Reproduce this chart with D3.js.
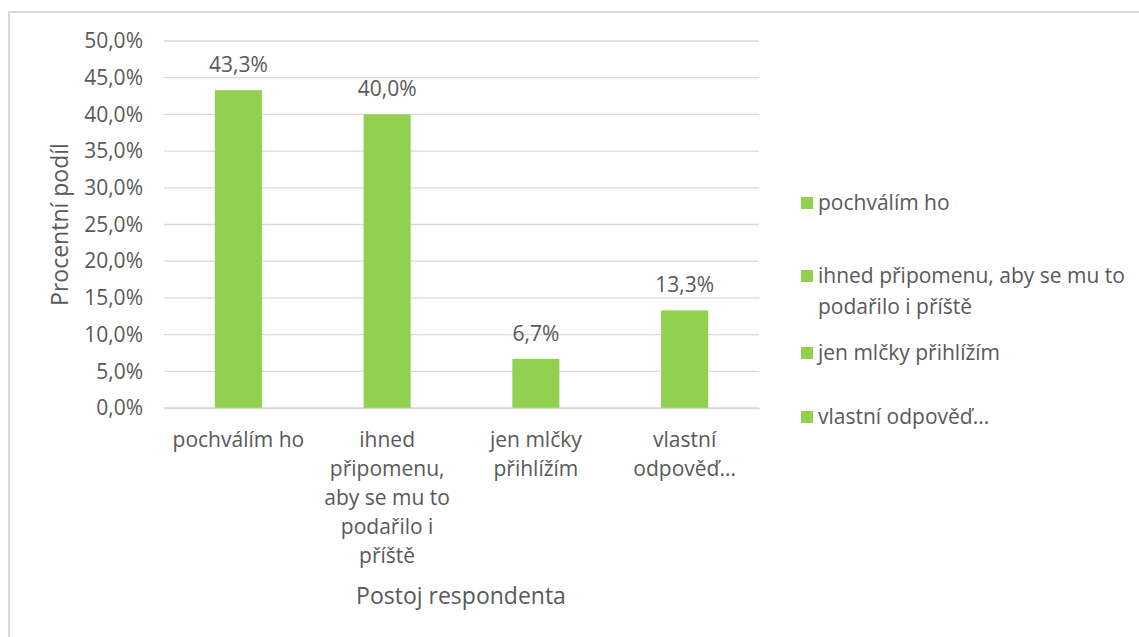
<!DOCTYPE html>
<html><head><meta charset="utf-8">
<script src="https://cdn.jsdelivr.net/npm/d3@7"></script>
<style>
html,body{margin:0;padding:0;background:#fff;}
svg{display:block;}
text{font-family:"Open Sans",sans-serif;fill:#595959;}
</style></head>
<body>
<svg id="chart" width="1139" height="637"></svg>
<script>
const categories = ["pochválím ho","ihned připomenu, aby se mu to podařilo i příště","jen mlčky přihlížím","vlastní odpověď..."];
const tickLines = [["pochválím ho"],["ihned","připomenu,","aby se mu to","podařilo i","příště"],["jen mlčky","přihlížím"],["vlastní","odpověď..."]];
const values = [43.3, 40.0, 6.7, 13.3];
const valueLabels = ["43,3%","40,0%","6,7%","13,3%"];
const yTicks = [0,5,10,15,20,25,30,35,40,45,50];
const legendLines = [["pochválím ho"],["ihned připomenu, aby se mu to","podařilo i příště"],["jen mlčky přihlížím"],["vlastní odpověď..."]];
const yTitle = "Procentní podíl";
const xTitle = "Postoj respondenta";

const svg = d3.select("#chart");
const green = "#92d050", grid = "#d9d9d9", fs = 21, fsT = 23;

// chart border
svg.append("rect").attr("x",9).attr("y",12).attr("width",1200).attr("height",700)
  .attr("fill","none").attr("stroke","#d9d9d9").attr("stroke-width",2);

const x = d3.scaleBand().domain(categories).range([164,759]).paddingInner(0.684).paddingOuter(0.342);
const y = d3.scaleLinear().domain([0,50]).range([408,41]);
const fmt = v => d3.format(".1f")(v).replace(".", ",") + "%";

// gridlines
svg.append("g").selectAll("line").data(yTicks).join("line")
  .attr("x1",164).attr("x2",759).attr("y1",d=>y(d)).attr("y2",d=>y(d))
  .attr("stroke",grid).attr("stroke-width",1.3);

// y axis labels
const yAxis = svg.append("g").attr("transform","translate(164,0)")
  .call(d3.axisLeft(y).tickValues(yTicks).tickFormat(fmt).tickSize(0).tickPadding(21));
yAxis.select(".domain").remove();
yAxis.selectAll("text").attr("font-size",fs).attr("font-family","Open Sans").attr("fill","#595959");

// bars
svg.append("g").selectAll("rect").data(values).join("rect")
  .attr("x",(d,i)=>x(categories[i])).attr("width",x.bandwidth())
  .attr("y",d=>y(d)).attr("height",d=>y(0)-y(d)).attr("fill",green);

// value labels
svg.append("g").selectAll("text").data(values).join("text")
  .attr("x",(d,i)=>x(categories[i])+x.bandwidth()/2).attr("y",d=>y(d)-18)
  .attr("text-anchor","middle").attr("font-size",fs).text((d,i)=>valueLabels[i]);

// x axis tick labels
const xAxis = svg.append("g").attr("transform","translate(0,408)")
  .call(d3.axisBottom(x).tickSize(0).tickFormat(""));
xAxis.select(".domain").attr("stroke",grid).attr("stroke-width",1.3);
xAxis.selectAll(".tick").each(function(d,i){
  const t = d3.select(this).append("text").attr("text-anchor","middle").attr("font-size",fs)
    .attr("fill","#595959").attr("font-family","Open Sans");
  tickLines[i].forEach((ln,j)=>t.append("tspan").attr("x",0).attr("y",39+j*29).text(ln));
});

// axis titles
svg.append("text").attr("transform",`translate(68,${(y(0)+y(50))/2}) rotate(-90)`)
  .attr("text-anchor","middle").attr("font-size",fsT).text(yTitle);
svg.append("text").attr("x",461).attr("y",604).attr("text-anchor","middle")
  .attr("font-size",fsT).text(xTitle);

// legend
const legendY = [203, 276, 353, 417];
const lg = svg.append("g");
legendLines.forEach((lines,i)=>{
  lg.append("rect").attr("x",801).attr("y",legendY[i]-6).attr("width",12).attr("height",12).attr("fill",green);
  const t = lg.append("text").attr("font-size",fs);
  lines.forEach((ln,j)=>t.append("tspan").attr("x",818).attr("y",legendY[i]+7+j*31).text(ln));
});
</script>
</body></html>
